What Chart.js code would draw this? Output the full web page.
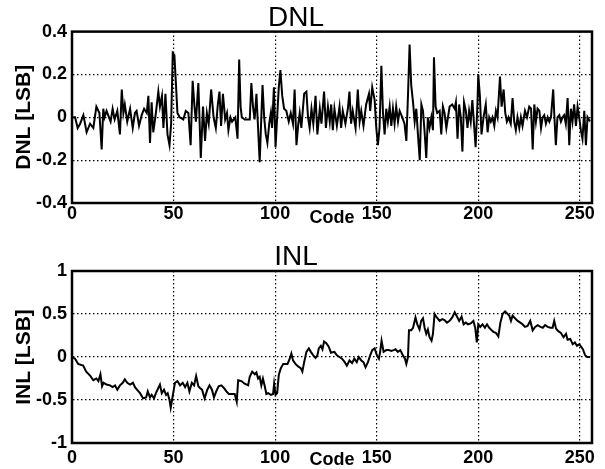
<!DOCTYPE html>
<html>
<head>
<meta charset="utf-8">
<script src="https://cdn.jsdelivr.net/npm/chart.js@4.4.0/dist/chart.umd.min.js"></script>
<style>
  html, body { margin: 0; padding: 0; background: #fff; }
  .panel { position: absolute; left: 0; width: 605px; }
  #top { top: 0; height: 235px; }
  #bottom { top: 235px; height: 234px; }
</style>
</head>
<body>
<div class="panel" id="top"><canvas id="dnlChart" width="605" height="235"></canvas></div>
<div class="panel" id="bottom"><canvas id="inlChart" width="605" height="234"></canvas></div>
<script>
// x axis (code) ticks, shared by both plots
const codeTicks = [0, 50, 100, 150, 200, 250];
const codeMax = 256;

// DNL plot
const dnlTicks = [-0.4, -0.2, 0, 0.2, 0.4];
const dnlTickLabels = ['-0.4', '-0.2', '0', '0.2', '0.4'];
const dnlCode = [0, 1.5, 2.8, 4, 5.6, 7.2, 8.9, 10.5, 12, 13.5, 14.6, 15.4, 16, 17, 19, 20, 21, 22.3, 23.6, 24.5,
  25.3, 26, 27.2, 28.6, 29.9, 31, 31.8, 33, 34.3, 35.5, 36.8, 37.6, 38.4, 39.2, 40, 41.3, 42.5, 43.3, 44.3, 45,
  46, 47, 48, 48.8, 49.6, 50.4, 51.2, 51.9, 53, 54.8, 56, 57.3, 58.4, 59.4, 60.3, 61, 62.2, 63.4, 64.5, 65.5,
  66.4, 67.3, 68.5, 69.7, 70.8, 71.8, 72.6, 73.4, 74.3, 75.4, 76.3, 77, 78, 78.8, 80.4, 81.5, 82.3, 83, 83.6, 85,
  87, 87.5, 88.3, 89.1, 89.9, 90.8, 91.6, 92.4, 93.2, 93.8, 94.6, 95.4, 96.2, 97.1, 97.9, 98.5, 99.4, 100.2, 101, 101.8,
  102.6, 103.5, 104.4, 105.5, 106.7, 107.7, 108.8, 109.6, 110.5, 111.3, 112.1, 112.9, 114.3, 115.4, 116.2, 117, 117.9, 118.8, 119.9, 120.8,
  122, 122.8, 124.1, 125, 126, 126.9, 127.6, 128.4, 129.2, 130.4, 131.7, 132.5, 133.3, 134.6, 135.8, 136.6, 137.4, 138.2, 139.6, 140.7,
  141.6, 142.4, 143.5, 144.8, 146.2, 146.8, 147.8, 149, 149.8, 150.6, 151.4, 152.3, 153.1, 153.9, 154.7, 155.5, 156.4, 157.2, 158, 158.8,
  159.6, 160.5, 161.3, 162.6, 163.7, 164.6, 165.4, 166.2, 167, 167.9, 168.7, 169.5, 170.3, 171.2, 172, 172.8, 173.6, 174.4, 175.2, 176,
  176.9, 177.7, 178.2, 179, 179.8, 181, 181.8, 182.6, 183.4, 184.3, 185.1, 185.9, 187.2, 188.4, 189, 189.8, 190.6, 191.4, 192.2, 193,
  193.9, 194.7, 195.5, 196.3, 197.1, 197.9, 198.7, 199.6, 200, 200.8, 201.6, 202.6, 203.7, 204.6, 205.4, 206.2, 207, 207.9, 208.7, 209.5,
  210.7, 211.5, 212.5, 213.3, 214.1, 214.9, 216, 216.9, 217.7, 218.5, 219.3, 220.2, 221, 221.8, 223, 224, 225.1, 226, 226.8, 227.6,
  228.4, 229.2, 230.1, 230.9, 231.7, 232.5, 233.3, 234.2, 235, 235.8, 236.9, 237.4, 238.2, 239, 239.9, 240.7, 241.5, 242.3, 243.1, 244,
  244.8, 245.6, 246.4, 247.2, 248.1, 248.9, 249.7, 250.5, 251.3, 252.2, 253, 253.8, 255];
const dnlValue = [0, 0, -0.05, -0.03, 0.01, -0.07, -0.03, -0.05, 0.05, 0.02, -0.15, 0.04, 0, 0.03, -0.02, 0.04, -0.01, 0.03, -0.08, 0.13,
  0.02, 0.06, -0.02, 0.04, -0.05, 0.02, 0.03, -0.04, 0.01, 0.04, 0.02, 0.1, -0.12, 0.07, -0.07, 0.02, 0.12, 0.05, 0.1, -0.05,
  0.11, -0.08, -0.13, -0.03, 0.3, 0.29, 0.15, 0.02, 0, -0.01, 0.03, 0.02, -0.13, 0.17, 0.05, -0.02, 0.16, -0.19, 0.05, -0.11,
  0.02, -0.03, 0.13, 0, -0.05, 0.06, 0.12, -0.04, 0.11, -0.01, 0.02, -0.06, 0, -0.02, 0, -0.1, 0.27, 0.05, 0, -0.01,
  -0.01, -0.01, 0.16, 0.05, -0.01, 0.11, -0.05, -0.21, 0, 0.15, 0, -0.08, -0.12, -0.03, 0.02, -0.05, 0.14, -0.14, 0, 0.14,
  0.22, 0.1, 0.04, 0.03, -0.02, 0.02, -0.03, 0.13, -0.13, -0.04, 0.02, -0.05, 0.11, 0.12, 0, -0.05, 0.04, -0.03, 0.1, -0.08,
  0.04, -0.03, 0.12, -0.05, 0.05, -0.02, 0.06, -0.06, 0.04, -0.04, 0.05, -0.05, 0.03, -0.03, 0.04, 0.12, -0.03, 0.03, -0.05, 0.13,
  -0.02, 0.03, -0.04, 0.06, 0.11, 0.03, 0.14, 0.08, -0.05, -0.13, -0.05, 0.24, 0.02, -0.08, 0.04, -0.02, 0.05, -0.04, 0.04, -0.03,
  0.05, -0.02, 0.03, 0, -0.03, -0.11, 0.1, 0.34, 0.15, 0.07, -0.02, 0.04, -0.08, -0.2, 0.06, 0.03, -0.07, -0.19, 0, -0.05,
  0, -0.06, 0.28, 0.05, 0.02, 0.03, -0.08, 0.05, 0.02, -0.05, 0, 0.05, 0.06, 0.04, 0.07, -0.1, 0.06, 0, -0.16, 0.07,
  0.03, -0.05, 0.03, -0.02, 0.08, -0.03, -0.14, 0.06, 0.2, 0.1, -0.08, 0, 0.06, -0.07, 0, -0.02, 0, -0.04, 0.03, 0,
  0.19, 0.05, 0.13, 0.02, -0.02, 0, -0.03, 0.09, -0.02, -0.06, 0, -0.05, 0, -0.04, 0.03, 0, 0.05, 0.04, -0.15, 0.06,
  -0.02, 0.04, 0.03, -0.05, 0, 0.01, -0.03, 0, -0.02, 0, 0.13, 0.02, -0.13, 0, 0.01, -0.02, 0, 0.01, -0.03, 0.09,
  -0.13, 0.04, -0.02, 0.06, -0.04, 0.05, 0, -0.06, -0.1, 0.03, -0.13, 0, -0.02];

// INL plot
const inlTicks = [-1, -0.5, 0, 0.5, 1];
const inlTickLabels = ['-1', '-0.5', '0', '0.5', '1'];
const inlCode = [0, 1.5, 3, 5.5, 7, 9, 10.5, 12, 13, 14, 14.8, 15.5, 17, 18.7, 20, 21.2, 22.3, 23.6, 25, 26,
  27.2, 28.6, 30, 31, 32, 33.5, 35, 36.5, 37.3, 38.4, 39.2, 40.4, 41.3, 42.5, 43.3, 44.2, 45.3, 46.3, 47.1, 48,
  48.6, 49.6, 50.7, 51.9, 53.2, 54.5, 55.7, 56.8, 57.8, 59, 60.1, 61.1, 62.2, 63, 64, 65.3, 66.6, 67.7, 68.9, 69.9,
  71, 72.2, 73.5, 74.8, 76, 77.2, 78.5, 80.1, 81.1, 81.8, 83.4, 85, 86.7, 87.5, 88.7, 90, 90.8, 91.6, 92.4, 93.2,
  94, 94.9, 95.7, 96.6, 97.9, 99, 99.5, 100.2, 101, 101.8, 102.8, 104, 105.1, 106.1, 107.2, 108, 108.8, 110, 111.3, 112.6,
  113.4, 114.3, 115.4, 116.6, 117.6, 118.8, 119.9, 120.8, 121.5, 122.5, 123.3, 124.1, 125.2, 126.4, 127.5, 129.2, 130.4, 131.7, 132.9, 134,
  135.3, 136.6, 137.9, 139, 140.2, 141.2, 142.4, 143.5, 144.5, 145.7, 146.8, 147.8, 149, 150.1, 151.1, 151.7, 152.4, 153.4, 154.7, 156,
  157.2, 158.3, 159.3, 160.4, 161.6, 162.9, 163.9, 164.6, 165.4, 165.9, 167, 167.9, 169.1, 170, 171.1, 171.9, 172.8, 173.6, 174.4, 175.2,
  176, 177, 177.7, 178.5, 179.6, 181, 182.3, 183.4, 184.6, 185.9, 187.2, 188.4, 189.5, 190.6, 191.8, 192.8, 193.9, 195, 196.3, 197.6,
  198.5, 199.3, 200, 201, 202.1, 203.3, 204.3, 205.4, 206.6, 207.6, 208.7, 209.9, 210.9, 212, 213.2, 214.1, 215.3, 216.1, 216.9, 218.1,
  219.4, 220.7, 221.8, 223, 224.3, 225.6, 226.8, 228, 229.3, 230.6, 231.8, 232.9, 234.2, 235.5, 236.6, 237.4, 238.3, 239.4, 240.7, 242,
  243.2, 244, 245.3, 246.5, 247.6, 248.6, 249.8, 250.6, 251.5, 252.6, 253.6, 255];
const inlValue = [0, -0.02, -0.08, -0.1, -0.17, -0.22, -0.27, -0.25, -0.28, -0.2, -0.34, -0.3, -0.32, -0.33, -0.35, -0.33, -0.38, -0.33, -0.3, -0.26,
  -0.3, -0.32, -0.3, -0.35, -0.38, -0.42, -0.48, -0.47, -0.4, -0.47, -0.44, -0.48, -0.42, -0.36, -0.32, -0.42, -0.38, -0.44, -0.42, -0.5,
  -0.59, -0.45, -0.3, -0.28, -0.33, -0.3, -0.35, -0.3, -0.4, -0.3, -0.33, -0.22, -0.34, -0.36, -0.38, -0.48, -0.38, -0.33, -0.38, -0.47,
  -0.4, -0.34, -0.33, -0.36, -0.4, -0.43, -0.43, -0.43, -0.52, -0.27, -0.28, -0.31, -0.33, -0.23, -0.17, -0.2, -0.18, -0.25, -0.23, -0.33,
  -0.25, -0.34, -0.43, -0.42, -0.44, -0.43, -0.31, -0.44, -0.42, -0.21, -0.13, -0.08, -0.08, -0.08, -0.02, 0.04, -0.04, -0.08, -0.11, -0.13,
  -0.17, -0.06, 0.06, 0.1, 0.06, 0.02, -0.01, 0.02, 0.1, 0.13, 0.09, 0.18, 0.16, 0.12, 0.05, 0.06, 0.02, 0, -0.02, -0.05,
  -0.1, -0.04, -0.07, -0.02, -0.06, 0, -0.04, -0.06, -0.12, -0.06, 0.02, 0.08, 0.1, 0.02, -0.02, 0.06, 0.19, 0.06, 0.08, 0.08,
  0.07, 0.08, 0.09, 0.06, 0.08, 0.02, -0.02, -0.08, 0, 0.31, 0.31, 0.34, 0.46, 0.38, 0.32, 0.42, 0.45, 0.34, 0.27, 0.32,
  0.23, 0.19, 0.27, 0.5, 0.46, 0.42, 0.44, 0.43, 0.4, 0.42, 0.46, 0.52, 0.47, 0.42, 0.47, 0.38, 0.4, 0.38, 0.39, 0.42,
  0.34, 0.17, 0.38, 0.35, 0.38, 0.34, 0.38, 0.34, 0.31, 0.29, 0.28, 0.24, 0.4, 0.5, 0.53, 0.51, 0.48, 0.42, 0.48, 0.45,
  0.42, 0.4, 0.38, 0.35, 0.36, 0.42, 0.31, 0.35, 0.37, 0.35, 0.34, 0.37, 0.35, 0.34, 0.34, 0.42, 0.33, 0.3, 0.28, 0.23,
  0.27, 0.2, 0.21, 0.15, 0.17, 0.13, 0.15, 0.12, 0.09, 0.02, 0, 0];

const fontFamily = '"Liberation Sans", Arial, Helvetica, sans-serif';

// solid frame round the plot area (MATLAB style box)
const boxPlugin = {
    id: 'box',
    afterDraw(chart) {
        const a = chart.chartArea;
        const ctx = chart.ctx;
        ctx.save();
        ctx.strokeStyle = '#000';
        ctx.lineWidth = 2.5;
        ctx.strokeRect(a.left, a.top, a.right - a.left, a.bottom - a.top);
        ctx.restore();
    }
};

function makePlot(canvasId, codes, values, cfg) {
    const points = codes.map((c, i) => ({ x: c, y: values[i] }));
    return new Chart(document.getElementById(canvasId), {
        type: 'line',
        data: {
            datasets: [{
                data: points,
                borderColor: '#000',
                borderWidth: 2,
                pointRadius: 0,
                tension: 0,
                fill: false
            }]
        },
        options: {
            responsive: false,
            animation: false,
            layout: { padding: { left: 0, right: 13, top: 0, bottom: 0 } },
            plugins: {
                legend: { display: false },
                tooltip: { enabled: false },
                title: {
                    display: true,
                    text: cfg.title,
                    color: '#000',
                    font: { family: fontFamily, size: 28, weight: 'normal', lineHeight: 0.95 },
                    padding: { top: cfg.titleTop, bottom: 0 }
                }
            },
            scales: {
                x: {
                    type: 'linear',
                    min: 0,
                    max: codeMax,
                    afterBuildTicks: s => { s.ticks = codeTicks.map(v => ({ value: v })); },
                    afterFit: s => { s.height = cfg.xHeight; },
                    ticks: {
                        color: '#000',
                        padding: cfg.xTickPad,
                        maxRotation: 0,
                        font: { family: fontFamily, size: 18, weight: 'bold', lineHeight: 1.2 },
                        callback: v => String(v)
                    },
                    grid: { color: '#000', lineWidth: 1.2, drawTicks: false },
                    border: { display: true, color: '#000', width: 2, dash: [1.5, 2.5] },
                    title: {
                        display: true,
                        text: 'Code',
                        color: '#000',
                        font: { family: fontFamily, size: 18, weight: 'bold', lineHeight: 1 },
                        padding: { top: 0, bottom: cfg.codePad }
                    }
                },
                y: {
                    min: cfg.yTicks[0],
                    max: cfg.yTicks[cfg.yTicks.length - 1],
                    afterBuildTicks: s => { s.ticks = cfg.yTicks.map(v => ({ value: v })); },
                    afterFit: s => { s.width = 72; },
                    ticks: {
                        color: '#000',
                        padding: 5,
                        font: { family: fontFamily, size: 18, weight: 'bold', lineHeight: 1.2 },
                        callback: (v, i) => cfg.yLabels[i]
                    },
                    grid: { color: '#000', lineWidth: 1.2, drawTicks: false },
                    border: { display: true, color: '#000', width: 2, dash: [1.5, 2.5] },
                    title: {
                        display: true,
                        text: cfg.yTitle,
                        color: '#000',
                        font: { family: fontFamily, size: 21, weight: 'bold', lineHeight: 1.2 },
                        padding: { top: 12, bottom: 0 }
                    }
                }
            }
        },
        plugins: [boxPlugin]
    });
}

makePlot('dnlChart', dnlCode, dnlValue, {
    title: 'DNL', titleTop: 5, yTitle: 'DNL [LSB]',
    yTicks: dnlTicks, yLabels: dnlTickLabels,
    xHeight: 32, xTickPad: 0, codePad: 8
});

makePlot('inlChart', inlCode, inlValue, {
    title: 'INL', titleTop: 9.4, yTitle: 'INL [LSB]',
    yTicks: inlTicks, yLabels: inlTickLabels,
    xHeight: 26, xTickPad: 4, codePad: 0
});
</script>
</body>
</html>
